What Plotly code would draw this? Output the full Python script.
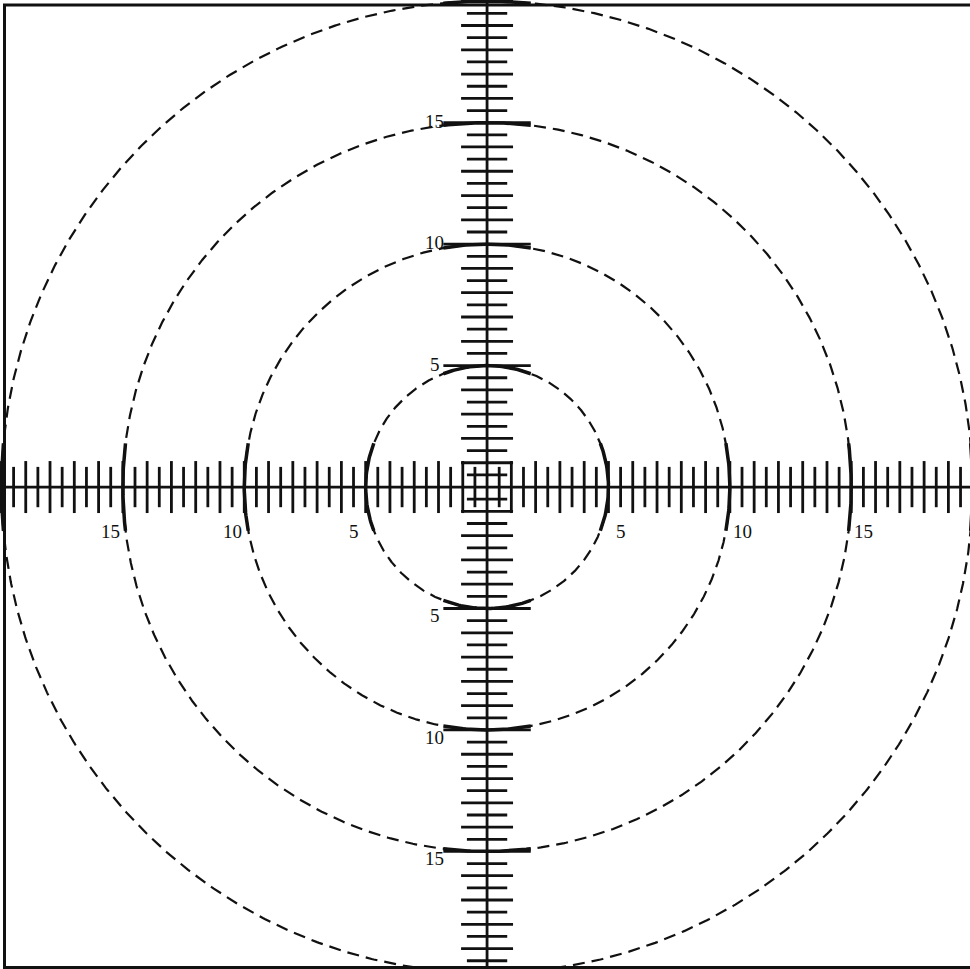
import numpy as np
import plotly.graph_objects as go

# ---- data ----
ring_radii = [5, 10, 15, 20]          # dashed range rings
label_values = [5, 10, 15]            # labelled rings
scale_extent = 20                     # scale runs from -20 to 20
tick_step = 0.5                       # minor graduation
major_every = 1.0                     # long graduation at integers

# ---- styling (not data) ----
INK = "#111111"
long_half = 1.07
short_half = 0.83
mark_half = 1.8
FONT = "Liberation Serif"

xs, ys = [], []
# axes
xs += [-scale_extent - 1, scale_extent + 1, None]
ys += [0, 0, None]
xs += [0, 0, None]
ys += [-scale_extent - 1, scale_extent + 1, None]

n = int(round(scale_extent / tick_step))
for k in range(-n, n + 1):
    v = k * tick_step
    if v == 0:
        continue
    half = long_half if abs(v / major_every - round(v / major_every)) < 1e-9 else short_half
    # ticks on horizontal axis (vertical strokes)
    xs += [v, v, None]
    ys += [-half, half, None]
    # ticks on vertical axis (horizontal strokes)
    hh = mark_half if abs(v) in label_values else half
    xs += [-hh, hh, None]
    ys += [v, v, None]

fig = go.Figure()
fig.add_trace(go.Scatter(x=xs, y=ys, mode="lines",
                         line=dict(color=INK, width=2.8), hoverinfo="skip"))

# dashed rings
theta = np.linspace(0, 2 * np.pi, 1441)
for r in ring_radii:
    fig.add_trace(go.Scatter(x=r * np.cos(theta), y=r * np.sin(theta), mode="lines",
                             line=dict(color=INK, width=2.2, dash="12px,7px"),
                             hoverinfo="skip"))

# bold arc segments where rings cross the axes
ax_, ay_ = [], []
for r in ring_radii:
    a = np.arcsin(min(mark_half / r, 1.0))
    for c in [0, np.pi / 2, np.pi, 3 * np.pi / 2]:
        t = np.linspace(c - a, c + a, 40)
        ax_ += list(r * np.cos(t)) + [None]
        ay_ += list(r * np.sin(t)) + [None]
fig.add_trace(go.Scatter(x=ax_, y=ay_, mode="lines",
                         line=dict(color=INK, width=3.5), hoverinfo="skip"))

# labels
ann = []
for v in label_values:
    for (x, y) in [(v + 0.5, -1.85), (-(v + 0.5), -1.85),
                   (-2.15, v + 0.05), (-2.15, -(v + 0.3))]:
        ann.append(dict(x=x, y=y, text=str(v), showarrow=False,
                        font=dict(family=FONT, size=19, color=INK),
                        xanchor="center", yanchor="middle"))

fig.update_layout(
    width=970, height=969,
    margin=dict(l=0, r=0, t=0, b=0),
    paper_bgcolor="white", plot_bgcolor="white",
    showlegend=False,
    xaxis=dict(range=[-20.06, 19.89], visible=False, fixedrange=True),
    yaxis=dict(range=[-19.84, 20.05], visible=False, fixedrange=True),
    annotations=ann,
    shapes=[dict(type="rect", xref="paper", yref="paper",
                 x0=4.5 / 970, x1=1.01, y0=1 - 967.5 / 969, y1=1 - 5 / 969,
                 line=dict(color=INK, width=3), fillcolor="rgba(0,0,0,0)")],
)

fig.write_html("out.html", config={"displayModeBar": False},
               post_script="document.body.style.margin='0';document.body.style.overflow='hidden';")
